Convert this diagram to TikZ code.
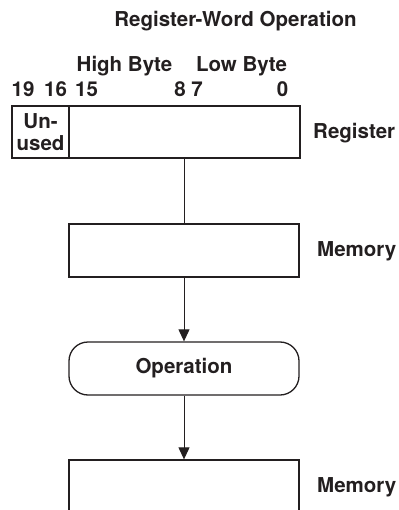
\documentclass[tikz,border=0pt]{standalone}
\usepackage{fontspec}
\setmainfont{TeX Gyre Heros}
\usetikzlibrary{arrows.meta}
\definecolor{ink}{HTML}{231F20}

\begin{document}
\begin{tikzpicture}[x=1pt,y=-1pt, color=ink,
  every node/.style={font=\fontsize{20.5}{22}\selectfont\bfseries, inner sep=0pt},
  box/.style={draw, line width=1.3pt, minimum width=230pt, minimum height=53pt},
  bit/.style={anchor=base},
  flow/.style={line width=1pt, -{Triangle[length=12pt,width=11pt]}}]
\useasboundingbox (0,0) rectangle (398,510);
\clip (0,0) rectangle (398,510);

% title
\node[bit] (title) at (235.5,27) {Register-Word Operation};

% byte and bit labels
\node[bit] (high) at (124.5,72) {High Byte};
\node[bit] (low) at (241.5,72) {Low Byte};
\node[bit] (b19) at (23,97) {19};
\node[bit] (b16) at (55.5,97) {16};
\node[bit] (b15) at (86.5,97) {15};
\node[bit] (b8) at (180,97) {8};
\node[bit] (b7) at (197,97) {7};
\node[bit] (b0) at (282.5,97) {0};

% register
\node[box, minimum width=288pt, minimum height=52pt] (reg) at (156,132) {};
\node[box, minimum width=57pt, minimum height=52pt, align=center] (unused) at (40.5,132) {Un-\\used};
\node[anchor=base west] (reglabel) at (313,139) {Register};

% memory, operation, memory
\node[box] (mem1) at (184,250.5) {};
\node[anchor=base west] (mem1label) at (317,256) {Memory};
\node[box, rounded corners=19pt] (op) at (184,368.5) {Operation};
\node[box, minimum height=60pt] (mem2) at (184,490) {};
\node[anchor=base west] (mem2label) at (317,492) {Memory};

% connectors
\draw[line width=1pt] (reg.south -| mem1) -- (mem1.north);
\draw[flow] (mem1) -- (op);
\draw[flow] (op) -- (mem2);
\end{tikzpicture}
\end{document}
